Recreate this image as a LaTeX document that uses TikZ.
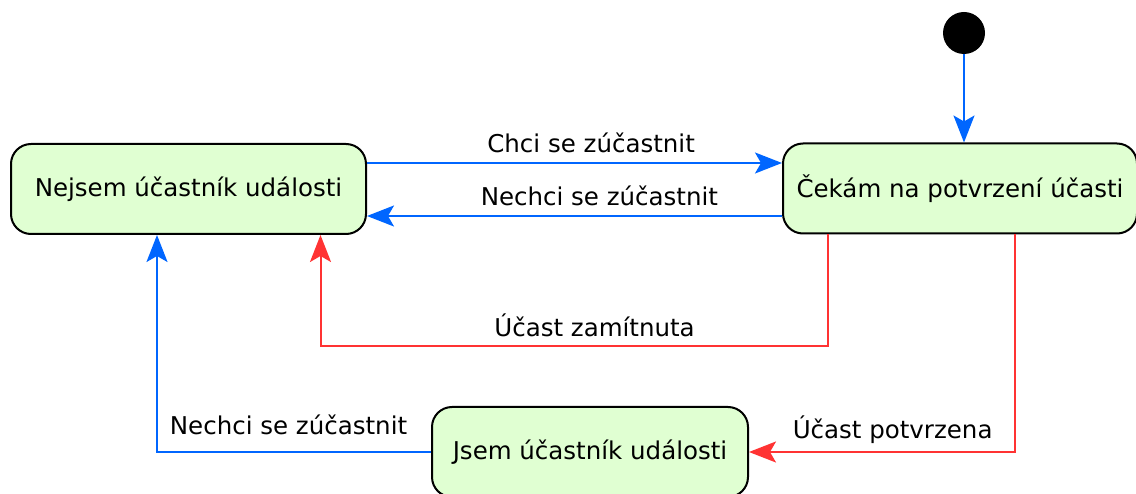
\documentclass[tikz,border=0pt]{standalone}
\usepackage{fontspec}
\setmainfont{DejaVu Sans}
\usetikzlibrary{arrows.meta}

\definecolor{stategreen}{RGB}{224,255,210}
\definecolor{edgeblue}{RGB}{0,102,255}
\definecolor{edgered}{RGB}{255,51,51}

\begin{document}
\begin{tikzpicture}[x=1pt,y=-1pt]
	\tikzstyle{state}=[draw,line width=2pt,rounded corners=20pt,fill=stategreen,
		minimum height=90pt,inner sep=0pt,font=\fontsize{24.5}{28}\selectfont]
	\tikzstyle{edge}=[line width=2pt,-{Stealth[length=27pt,width=21pt,inset=6pt]}]
	\tikzstyle{blueedge}=[edge,draw=edgeblue]
	\tikzstyle{rededge}=[edge,draw=edgered]
	\tikzstyle{lbl}=[above,font=\fontsize{24.5}{28}\selectfont,inner sep=9pt,text=black]
	
	\useasboundingbox (0,0) rectangle (1136,494);
	
	\node[circle,fill=black,minimum size=42pt,inner sep=0pt] (init) at (964,33) {};
	\node[state,minimum width=355pt] (nejsem) at (188.5,189) {Nejsem účastník události};
	\node[state,minimum width=354pt] (cekam) at (960,188.5) {Čekám na potvrzení účasti};
	\node[state,minimum width=316pt] (jsem) at (590,452) {Jsem účastník události};
	
	\draw[blueedge] (init.south) -- (init.south |- cekam.north);
	
	\draw[blueedge] ([yshift=26pt]nejsem.east) -- ([yshift=26pt]nejsem.east -| cekam.west)
		node[pos=0.54,lbl] {Chci se zúčastnit};
	\draw[blueedge] ([yshift=-27.5pt]cekam.west) -- ([yshift=-27.5pt]cekam.west -| nejsem.east)
		node[pos=0.44,lbl] {Nechci se zúčastnit};
	
	\draw[rededge] ([xshift=-132pt]cekam.south) -- ++(0,112) -| ([xshift=132pt]nejsem.south)
		node[pos=0.23,lbl] {Účast zamítnuta};
	\draw[rededge] ([xshift=55pt]cekam.south) |- (jsem.east)
		node[pos=0.73,lbl,inner sep=7pt] {Účast potvrzena};
	
	\draw[blueedge] (jsem.west) -| ([xshift=-31.5pt]nejsem.south)
		node[pos=0.26,lbl,inner sep=16pt] {Nechci se zúčastnit};
\end{tikzpicture}
\end{document}
